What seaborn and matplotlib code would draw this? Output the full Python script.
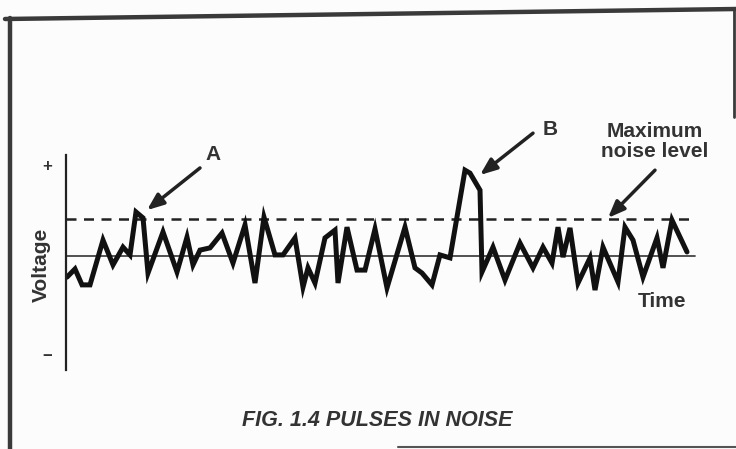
import numpy as np
import pandas as pd
import matplotlib
matplotlib.use("Agg")
import matplotlib.pyplot as plt
import seaborn as sns

# signal trace (time in arbitrary units, voltage relative to noise level)
time = [0.1, 0.9, 1.6, 2.4, 3.7, 4.7, 5.7, 6.4, 7.0, 7.7, 8.2, 9.7, 11.1, 12.1, 12.7,
        13.4, 14.4, 15.6, 16.7, 17.9, 18.9, 19.8, 20.9, 21.7, 22.9, 23.7, 24.2, 24.9,
        25.9, 26.9, 27.2, 28.1, 29.1, 29.9, 30.9, 32.1, 33.9, 34.9, 35.6, 36.6, 37.4,
        38.4, 39.9, 40.4, 41.4, 41.6, 42.7, 43.9, 45.4, 46.7, 47.7, 48.6, 49.2, 49.7,
        50.4, 51.2, 52.4, 52.9, 53.7, 55.2, 55.9, 56.7, 57.7, 59.1, 59.7, 60.6, 62.1]
voltage = [-0.57, -0.35, -0.78, -0.78, 0.43, -0.24, 0.24, 0.03, 1.19, 1.03, -0.46, 0.65,
           -0.43, 0.51, -0.24, 0.16, 0.22, 0.62, -0.19, 0.84, -0.73, 1.05, 0.03, 0.03,
           0.49, -0.84, -0.32, -0.73, 0.49, 0.70, -0.73, 0.78, -0.38, -0.38, 0.73, -0.86,
           0.78, -0.32, -0.46, -0.78, 0.03, -0.05, 2.32, 2.24, 1.78, -0.43, 0.24, -0.65,
           0.35, -0.32, 0.24, -0.19, 0.78, -0.03, 0.76, -0.73, -0.05, -0.92, 0.24, -0.70,
           0.78, 0.43, -0.57, 0.49, -0.32, 0.97, 0.11]

noise_level = 1.0
t_end = 62.9
ytick_pos = [2.46, -2.68]
ytick_labels = ["+", "\u2212"]
caption = "FIG. 1.4 PULSES IN NOISE"

df = pd.DataFrame({"Time": time, "Voltage": voltage})

sns.set_style("white")
plt.rcParams["font.family"] = ["Liberation Sans", "DejaVu Sans"]
ink = "#333333"
bg = "#fcfcfc"

fig = plt.figure(figsize=(7.36, 4.49), dpi=100, facecolor=bg)

# page frame and caption drawn in pixel coordinates
frame = fig.add_axes([0, 0, 1, 1])
frame.set_xlim(0, 736)
frame.set_ylim(449, 0)
frame.axis("off")
frame.plot([5, 736], [19, 9], color="#3a3a3a", lw=3.2)
frame.plot([10, 10], [18, 449], color="#3a3a3a", lw=3.2)
frame.plot([734, 734], [9, 117], color="#3a3a3a", lw=2)
frame.plot([398, 736], [447, 447], color="#555555", lw=1.5)
frame.text(242, 420, caption, fontsize=15.5, fontweight="bold", fontstyle="italic",
           color=ink, ha="left", va="center")

ax = fig.add_axes([66 / 736, (449 - 370) / 449, (696 - 66) / 736, (370 - 155) / 449])
ax.set_facecolor("none")

sns.lineplot(data=df, x="Time", y="Voltage", sort=False, color="#111111", lw=3.6,
             ax=ax, solid_joinstyle="miter")
ax.plot([0, t_end], [0, 0], color="#444444", lw=1.3, zorder=1)
ax.plot([0, t_end * 0.995], [noise_level, noise_level], color="#222222", lw=1.8,
        dashes=(4, 3), zorder=1)

ax.set_xlim(0, 63)
ax.set_ylim(-3.08, 2.73)
ax.set_xticks([])
ax.set_yticks(ytick_pos)
ax.set_yticklabels(ytick_labels, fontsize=12, fontweight="bold", color=ink)
ax.tick_params(axis="y", length=0, pad=10)
ax.set_xlabel("")
ax.set_ylabel("")
for side in ["top", "right", "bottom"]:
    ax.spines[side].set_visible(False)
ax.spines["left"].set_color("#222222")
ax.spines["left"].set_linewidth(1.6)

arrow = dict(arrowstyle="-|>,head_length=1.0,head_width=0.4", color="#222222", lw=2.5,
             shrinkA=0, shrinkB=0)
ax.annotate("", xy=(8.1, 1.24), xytext=(13.4, 2.38), arrowprops=arrow, annotation_clip=False)
ax.annotate("", xy=(41.4, 2.19), xytext=(46.7, 3.32), arrowprops=arrow, annotation_clip=False)
ax.annotate("", xy=(54.2, 1.03), xytext=(58.9, 2.32), arrowprops=arrow, annotation_clip=False)

label_kw = dict(fontsize=15, fontweight="bold", color=ink, ha="center", va="center")
ax.text(-2.5, -0.24, "Voltage", rotation=90, clip_on=False, **label_kw)
ax.text(14.7, 2.73, "A", clip_on=False, **label_kw)
ax.text(48.4, 3.41, "B", clip_on=False, **label_kw)
ax.text(58.9, 3.1, "Maximum\nnoise level", clip_on=False, linespacing=1.1, **label_kw)
ax.text(59.6, -1.24, "Time", **label_kw)

fig.savefig("out.png", dpi=100, facecolor=bg)
